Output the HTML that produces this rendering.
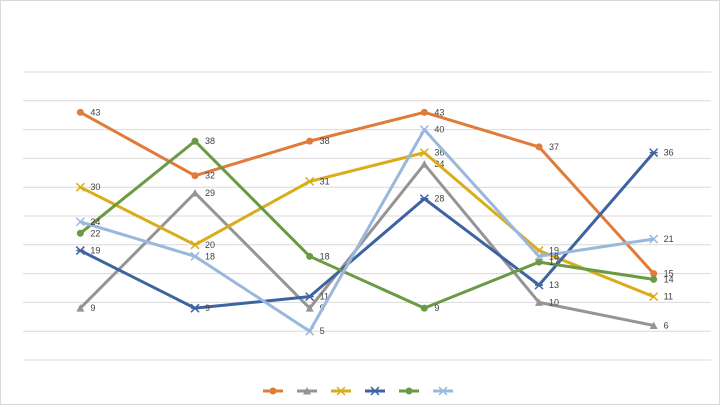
<!DOCTYPE html>
<html><head><meta charset="utf-8"><style>
body{margin:0;background:#fff;font-family:"Liberation Sans",sans-serif}
#c{position:absolute;left:0;top:0;width:720px;height:405px;border:1px solid #d9d9d9;box-sizing:border-box}
</style></head><body>
<div id="c">
<svg id="s" width="720" height="405"></svg>
</div>
<script>
const categories=["c1","c2","c3","c4","c5","c6"];
const seriesOrange=[43,32,38,43,37,15];
const seriesGray=[9,29,9,34,10,6];
const seriesYellow=[30,20,31,36,19,11];
const seriesDarkBlue=[19,9,11,28,13,36];
const seriesGreen=[22,38,18,9,17,14];
const seriesLightBlue=[24,18,5,40,18,21];
const gridTicks=[0,5,10,15,20,25,30,35,40,45,50];
const NS="http://www.w3.org/2000/svg";
const svg=document.getElementById('s');
const x0=22,x1=710,y0=359,y1=71;
const xs=i=>x0+(x1-x0)*(i+0.5)/categories.length;
const ys=v=>y0-(y0-y1)*v/50;
function mk(t,a){const e=document.createElementNS(NS,t);for(const k in a)e.setAttribute(k,a[k]);svg.appendChild(e);return e;}
gridTicks.forEach(t=>{const l=mk('line',{x1:x0,x2:x1,y1:ys(t),y2:ys(t),stroke:'#d9d9d9','stroke-width':1});

});
const series=[
{n:'orange',d:seriesOrange,c:'#e07b39',m:'circle'},
{n:'gray',d:seriesGray,c:'#959595',m:'tri'},
{n:'yellow',d:seriesYellow,c:'#dbac1a',m:'x'},
{n:'dark-blue',d:seriesDarkBlue,c:'#3d64a0',m:'star'},
{n:'green',d:seriesGreen,c:'#6a9a44',m:'circle'},
{n:'light-blue',d:seriesLightBlue,c:'#9ab8dc',m:'x'}];
function marker(m,x,y,c,g){
 if(m==='circle'){const e=mk('circle',{cx:x,cy:y,r:3.5,fill:c});g.appendChild(e);}
 else if(m==='tri'){const e=mk('polygon',{points:`${x-4},${y+3.5} ${x+4},${y+3.5} ${x},${y-4}`,fill:c});g.appendChild(e);}
 else{const e=mk('path',{d:`M${x-4} ${y-4}L${x+4} ${y+4}M${x+4} ${y-4}L${x-4} ${y+4}`+(m==='star'?`M${x-4} ${y}L${x+4} ${y}`:''),stroke:c,'stroke-width':1.5,fill:'none'});g.appendChild(e);}
}
series.forEach(s=>{
 const g=mk('g',{});
 
 
 const pts=s.d.map((v,i)=>xs(i)+','+ys(v)).join(' ');
 const pl=mk('polyline',{points:pts,fill:'none',stroke:s.c,'stroke-width':3,'stroke-linejoin':'round'});g.appendChild(pl);
 
 
 s.d.forEach((v,i)=>{marker(s.m,xs(i),ys(v),s.c,g);
  const t=mk('text',{x:xs(i)+10,y:ys(v)+3,'font-size':9,fill:'#404040'});t.textContent=v;g.appendChild(t);
  
  });
});
series.forEach((s,i)=>{
 const g=mk('g',{});
 
 
 const cx=272+i*34;
 const l=mk('line',{x1:cx-10,x2:cx+10,y1:390,y2:390,stroke:s.c,'stroke-width':3});g.appendChild(l);
 marker(s.m,cx,390,s.c,g);
});
</script>
</body></html>
